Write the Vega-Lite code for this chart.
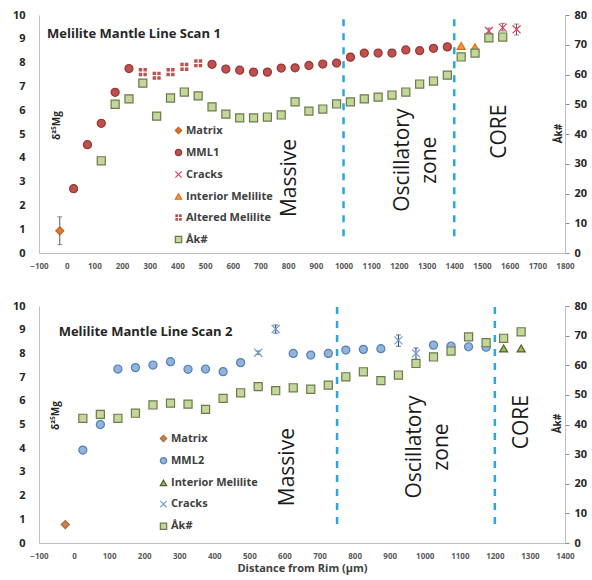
{
  "$schema": "https://vega.github.io/schema/vega-lite/v6.json",
  "padding": {"left": 12, "right": 4, "top": 9, "bottom": 4},
  "spacing": 30,
  "config": {
    "font": "Open Sans",
    "view": {"stroke": null},
    "axis": {"grid": false, "domainColor": "#bfbfbf", "labelFont": "Open Sans", "titleFont": "Open Sans", "labelOverlap": false, "format": "d"},
    "axisLeft": {"tickCount": 10},
    "axisBottom": {"tickCount": 19},
    "legend": {"labelFont": "Open Sans"}
  },
  "datasets": {
    "p1": [
      {"s": "Matrix", "x": -25, "d": 0.93, "lo": 0.35, "hi": 1.52},
      {"s": "MML1", "x": 25, "d": 2.7},
      {"s": "MML1", "x": 75, "d": 4.55},
      {"s": "MML1", "x": 125, "d": 5.45},
      {"s": "MML1", "x": 175, "d": 6.75},
      {"s": "MML1", "x": 225, "d": 7.75},
      {"s": "Altered Melilite", "x": 275, "d": 7.6},
      {"s": "Altered Melilite", "x": 325, "d": 7.45},
      {"s": "Altered Melilite", "x": 375, "d": 7.6},
      {"s": "Altered Melilite", "x": 425, "d": 7.82},
      {"s": "Altered Melilite", "x": 475, "d": 7.97},
      {"s": "MML1", "x": 525, "d": 7.93},
      {"s": "MML1", "x": 575, "d": 7.73},
      {"s": "MML1", "x": 625, "d": 7.68},
      {"s": "MML1", "x": 675, "d": 7.6},
      {"s": "MML1", "x": 725, "d": 7.6},
      {"s": "MML1", "x": 775, "d": 7.77},
      {"s": "MML1", "x": 825, "d": 7.78},
      {"s": "MML1", "x": 875, "d": 7.88},
      {"s": "MML1", "x": 925, "d": 7.94},
      {"s": "MML1", "x": 975, "d": 7.98},
      {"s": "MML1", "x": 1025, "d": 8.23},
      {"s": "MML1", "x": 1075, "d": 8.4},
      {"s": "MML1", "x": 1125, "d": 8.4},
      {"s": "MML1", "x": 1175, "d": 8.4},
      {"s": "MML1", "x": 1225, "d": 8.53},
      {"s": "MML1", "x": 1275, "d": 8.5},
      {"s": "MML1", "x": 1325, "d": 8.6},
      {"s": "MML1", "x": 1375, "d": 8.66},
      {"s": "Interior Melilite", "x": 1425, "d": 8.7},
      {"s": "Interior Melilite", "x": 1475, "d": 8.64},
      {"s": "Cracks", "x": 1525, "d": 9.33, "lo": 9.24, "hi": 9.45},
      {"s": "Cracks", "x": 1575, "d": 9.47, "lo": 9.33, "hi": 9.65},
      {"s": "Cracks", "x": 1625, "d": 9.4, "lo": 9.16, "hi": 9.62}
    ],
    "a1": [
      {"s": "Åk#", "x": 125, "ak": 31}, {"s": "Åk#", "x": 175, "ak": 50}, {"s": "Åk#", "x": 225, "ak": 51.8},
      {"s": "Åk#", "x": 275, "ak": 57.1}, {"s": "Åk#", "x": 325, "ak": 46}, {"s": "Åk#", "x": 375, "ak": 52.1},
      {"s": "Åk#", "x": 425, "ak": 54.1}, {"s": "Åk#", "x": 475, "ak": 52.8}, {"s": "Åk#", "x": 525, "ak": 49.1},
      {"s": "Åk#", "x": 575, "ak": 46.7}, {"s": "Åk#", "x": 625, "ak": 45.4}, {"s": "Åk#", "x": 675, "ak": 45.4},
      {"s": "Åk#", "x": 725, "ak": 45.7}, {"s": "Åk#", "x": 775, "ak": 46.4}, {"s": "Åk#", "x": 825, "ak": 50.8},
      {"s": "Åk#", "x": 875, "ak": 47.7}, {"s": "Åk#", "x": 925, "ak": 48.4}, {"s": "Åk#", "x": 975, "ak": 50.1},
      {"s": "Åk#", "x": 1025, "ak": 50.8}, {"s": "Åk#", "x": 1075, "ak": 51.8}, {"s": "Åk#", "x": 1125, "ak": 52.4},
      {"s": "Åk#", "x": 1175, "ak": 53.1}, {"s": "Åk#", "x": 1225, "ak": 54.1}, {"s": "Åk#", "x": 1275, "ak": 56.8},
      {"s": "Åk#", "x": 1325, "ak": 57.8}, {"s": "Åk#", "x": 1375, "ak": 59.8}, {"s": "Åk#", "x": 1425, "ak": 65.9},
      {"s": "Åk#", "x": 1475, "ak": 67.2}, {"s": "Åk#", "x": 1525, "ak": 72.3}, {"s": "Åk#", "x": 1575, "ak": 72.6}
    ],
    "p2": [
      {"s": "Matrix", "x": -25, "d": 0.78},
      {"s": "MML2", "x": 25, "d": 3.92},
      {"s": "MML2", "x": 75, "d": 5.0},
      {"s": "MML2", "x": 125, "d": 7.34},
      {"s": "MML2", "x": 175, "d": 7.4},
      {"s": "MML2", "x": 225, "d": 7.51},
      {"s": "MML2", "x": 275, "d": 7.65},
      {"s": "MML2", "x": 325, "d": 7.33},
      {"s": "MML2", "x": 375, "d": 7.34},
      {"s": "MML2", "x": 425, "d": 7.23},
      {"s": "MML2", "x": 475, "d": 7.61},
      {"s": "Cracks", "x": 525, "d": 8.03, "lo": 7.96, "hi": 8.1},
      {"s": "Cracks", "x": 575, "d": 9.03, "lo": 8.85, "hi": 9.2},
      {"s": "MML2", "x": 625, "d": 8.0},
      {"s": "MML2", "x": 675, "d": 7.93},
      {"s": "MML2", "x": 725, "d": 8.0},
      {"s": "MML2", "x": 775, "d": 8.14},
      {"s": "MML2", "x": 825, "d": 8.17},
      {"s": "MML2", "x": 875, "d": 8.2},
      {"s": "Cracks", "x": 925, "d": 8.55, "lo": 8.3, "hi": 8.78},
      {"s": "Cracks", "x": 975, "d": 8.0, "lo": 7.72, "hi": 8.23},
      {"s": "MML2", "x": 1025, "d": 8.35},
      {"s": "MML2", "x": 1075, "d": 8.31},
      {"s": "MML2", "x": 1125, "d": 8.28},
      {"s": "MML2", "x": 1175, "d": 8.26},
      {"s": "Interior Melilite", "x": 1225, "d": 8.21},
      {"s": "Interior Melilite", "x": 1275, "d": 8.21}
    ],
    "a2": [
      {"s": "Åk#", "x": 25, "ak": 42.1}, {"s": "Åk#", "x": 75, "ak": 43.4}, {"s": "Åk#", "x": 125, "ak": 42.1},
      {"s": "Åk#", "x": 175, "ak": 43.8}, {"s": "Åk#", "x": 225, "ak": 46.6}, {"s": "Åk#", "x": 275, "ak": 47.2},
      {"s": "Åk#", "x": 325, "ak": 46.9}, {"s": "Åk#", "x": 375, "ak": 45.1}, {"s": "Åk#", "x": 425, "ak": 48.8},
      {"s": "Åk#", "x": 475, "ak": 50.7}, {"s": "Åk#", "x": 525, "ak": 52.8}, {"s": "Åk#", "x": 575, "ak": 51.4},
      {"s": "Åk#", "x": 625, "ak": 52.4}, {"s": "Åk#", "x": 675, "ak": 51.9}, {"s": "Åk#", "x": 725, "ak": 53.3},
      {"s": "Åk#", "x": 775, "ak": 56.1}, {"s": "Åk#", "x": 825, "ak": 57.8}, {"s": "Åk#", "x": 875, "ak": 54.8},
      {"s": "Åk#", "x": 925, "ak": 56.7}, {"s": "Åk#", "x": 975, "ak": 60.6}, {"s": "Åk#", "x": 1025, "ak": 62.8},
      {"s": "Åk#", "x": 1075, "ak": 64.8}, {"s": "Åk#", "x": 1125, "ak": 69.6}, {"s": "Åk#", "x": 1175, "ak": 67.6},
      {"s": "Åk#", "x": 1225, "ak": 69.1}, {"s": "Åk#", "x": 1275, "ak": 71.3}
    ]
  },
  "resolve": {"scale": {"x": "independent", "y": "independent", "fill": "independent", "stroke": "independent", "shape": "independent"}, "legend": {"fill": "independent", "stroke": "independent", "shape": "independent"}},
  "vconcat": [
    {
      "width": 526,
      "height": 238,
      "resolve": {"scale": {"y": "independent"}},
      "layer": [
        {
          "layer": [
            {
              "data": {"values": [{"x": 1000, "y0": 0.7, "y1": 10.05}, {"x": 1400, "y0": 0.7, "y1": 10.05}]},
              "mark": {"type": "rule", "color": "#2aa8de", "strokeWidth": 2.5, "strokeDash": [7, 7]},
              "encoding": {
                "x": {"field": "x", "type": "quantitative", "scale": {"domain": [-100, 1800], "nice": false}, "axis": {"title": null, "ticks": false, "labelFontSize": 8, "labelFontWeight": "bold", "labelColor": "#595959", "labelPadding": 9, "labelFlush": false}},
                "y": {"field": "y0", "type": "quantitative", "scale": {"domain": [0, 10], "nice": false}, "axis": {"title": "δ²⁵Mg", "ticks": false, "labelFontSize": 11, "labelFontWeight": "bold", "labelColor": "#262626", "labelPadding": 14, "titleAngle": 270, "titleX": 17, "titleY": 110, "titleAlign": "center", "titleBaseline": "middle", "titleFontSize": 10, "titleFontWeight": "bold", "titleColor": "#262626"}},
                "y2": {"field": "y1"}
              }
            },
            {
              "data": {"name": "p1"},
              "transform": [{"filter": "isValid(datum.lo)"}],
              "mark": {"type": "rule", "color": "#595959", "strokeWidth": 1},
              "encoding": {
                "x": {"field": "x", "type": "quantitative"},
                "y": {"field": "lo", "type": "quantitative"},
                "y2": {"field": "hi"}
              }
            },
            {
              "data": {"name": "p1"},
              "transform": [{"filter": "isValid(datum.lo)"}],
              "mark": {"type": "tick", "orient": "horizontal", "color": "#595959", "size": 5, "thickness": 1},
              "encoding": {
                "x": {"field": "x", "type": "quantitative"},
                "y": {"field": "lo", "type": "quantitative"}
              }
            },
            {
              "data": {"name": "p1"},
              "transform": [{"filter": "isValid(datum.lo)"}],
              "mark": {"type": "tick", "orient": "horizontal", "color": "#595959", "size": 5, "thickness": 1},
              "encoding": {
                "x": {"field": "x", "type": "quantitative"},
                "y": {"field": "hi", "type": "quantitative"}
              }
            },
            {
              "data": {"name": "p1"},
              "mark": {"type": "point", "filled": true, "opacity": 1, "size": 65, "strokeWidth": 1.2},
              "encoding": {
                "x": {"field": "x", "type": "quantitative"},
                "y": {"field": "d", "type": "quantitative"},
                "shape": {"field": "s", "type": "nominal", "scale": {"domain": ["Matrix", "MML1", "Cracks", "Interior Melilite", "Altered Melilite", "Åk#"], "range": ["diamond", "circle", "M-1,-1L1,1M1,-1L-1,1", "triangle-up", "M-1,-1H-0.15V-0.15H-1Z M0.15,-1H1V-0.15H0.15Z M-1,0.15H-0.15V1H-1Z M0.15,0.15H1V1H0.15Z", "square"]}, "legend": {"orient": "none", "legendX": 134, "legendY": 110, "title": null, "padding": 0, "rowPadding": 9, "symbolSize": 40, "symbolStrokeWidth": 1.2, "labelFontSize": 11, "labelFontWeight": "bold", "labelColor": "#404040", "labelOffset": 2}},
                "fill": {"field": "s", "type": "nominal", "scale": {"domain": ["Matrix", "MML1", "Cracks", "Interior Melilite", "Altered Melilite", "Åk#"], "range": ["#e0782e", "#c0504d", "transparent", "#f79646", "#c0504d", "#c4d79b"]}, "legend": {"orient": "none", "legendX": 134, "legendY": 110, "title": null}},
                "stroke": {"field": "s", "type": "nominal", "scale": {"domain": ["Matrix", "MML1", "Cracks", "Interior Melilite", "Altered Melilite", "Åk#"], "range": ["#c0601e", "#953735", "#e0405a", "#e46c0a", "transparent", "#6b7a4b"]}, "legend": {"orient": "none", "legendX": 134, "legendY": 110, "title": null}}
              }
            },
            {
              "data": {"values": [
                {"x": -71, "y": 9.22, "t": "Melilite Mantle Line Scan 1"}
              ]},
              "mark": {"type": "text", "align": "left", "baseline": "middle", "fontSize": 13, "fontWeight": "bold", "color": "#262626", "font": "Open Sans"},
              "encoding": {
                "x": {"field": "x", "type": "quantitative"},
                "y": {"field": "y", "type": "quantitative"},
                "text": {"field": "t"}
              }
            },
            {
              "data": {"values": [
                {"x": 807, "y": 3.15, "t": "Massive"},
                {"x": 1216, "y": 3.9, "t": "Oscillatory\nzone"},
                {"x": 1565, "y": 5.1, "t": "CORE"}
              ]},
              "mark": {"type": "text", "angle": 270, "align": "center", "baseline": "middle", "fontSize": 21, "lineBreak": "\n", "lineHeight": 27, "color": "#1a1a1a", "font": "Open Sans"},
              "encoding": {
                "x": {"field": "x", "type": "quantitative"},
                "y": {"field": "y", "type": "quantitative"},
                "text": {"field": "t"}
              }
            }
          ]
        },
        {
          "data": {"name": "a1"},
          "mark": {"type": "point", "filled": true, "opacity": 1, "size": 65, "strokeWidth": 1.2},
          "encoding": {
            "x": {"field": "x", "type": "quantitative"},
            "y": {"field": "ak", "type": "quantitative", "scale": {"domain": [0, 80], "nice": false}, "axis": {"orient": "right", "values": [0,10,20,30,40,50,60,70,80], "labelOverlap": false, "title": "Åk#", "tickSize": 4, "tickColor": "#8c8c8c", "labelFontSize": 11, "labelFontWeight": "bold", "labelColor": "#262626", "labelPadding": 5, "titleAngle": 270, "titleX": -7, "titleY": 118, "titleAlign": "center", "titleBaseline": "middle", "titleFontSize": 10, "titleFontWeight": "bold", "titleColor": "#262626"}},
            "shape": {"field": "s", "type": "nominal"},
            "fill": {"field": "s", "type": "nominal"},
            "stroke": {"field": "s", "type": "nominal"}
          }
        }
      ]
    },
    {
      "width": 526,
      "height": 237,
      "resolve": {"scale": {"y": "independent"}},
      "layer": [
        {
          "layer": [
            {
              "data": {"values": [{"x": 750, "y0": 0.8, "y1": 10.05}, {"x": 1200, "y0": 0.8, "y1": 10.05}]},
              "mark": {"type": "rule", "color": "#2aa8de", "strokeWidth": 2.5, "strokeDash": [7, 7]},
              "encoding": {
                "x": {"field": "x", "type": "quantitative", "scale": {"domain": [-100, 1400], "nice": false}, "axis": {"title": "Distance from Rim (µm)", "ticks": false, "labelFontSize": 8, "labelFontWeight": "bold", "labelColor": "#595959", "labelPadding": 9, "labelFlush": false, "titleFontSize": 11, "titleFontWeight": "bold", "titleColor": "#404040", "titlePadding": 2}},
                "y": {"field": "y0", "type": "quantitative", "scale": {"domain": [0, 10], "nice": false}, "axis": {"title": "δ²⁵Mg", "ticks": false, "labelFontSize": 11, "labelFontWeight": "bold", "labelColor": "#262626", "labelPadding": 14, "titleAngle": 270, "titleX": 16, "titleY": 109, "titleAlign": "center", "titleBaseline": "middle", "titleFontSize": 10, "titleFontWeight": "bold", "titleColor": "#262626"}},
                "y2": {"field": "y1"}
              }
            },
            {
              "data": {"name": "p2"},
              "transform": [{"filter": "isValid(datum.lo)"}],
              "mark": {"type": "rule", "color": "#1f3f7a", "strokeWidth": 1},
              "encoding": {
                "x": {"field": "x", "type": "quantitative"},
                "y": {"field": "lo", "type": "quantitative"},
                "y2": {"field": "hi"}
              }
            },
            {
              "data": {"name": "p2"},
              "transform": [{"filter": "isValid(datum.lo)"}],
              "mark": {"type": "tick", "orient": "horizontal", "color": "#1f3f7a", "size": 5, "thickness": 1},
              "encoding": {
                "x": {"field": "x", "type": "quantitative"},
                "y": {"field": "lo", "type": "quantitative"}
              }
            },
            {
              "data": {"name": "p2"},
              "transform": [{"filter": "isValid(datum.lo)"}],
              "mark": {"type": "tick", "orient": "horizontal", "color": "#1f3f7a", "size": 5, "thickness": 1},
              "encoding": {
                "x": {"field": "x", "type": "quantitative"},
                "y": {"field": "hi", "type": "quantitative"}
              }
            },
            {
              "data": {"name": "p2"},
              "mark": {"type": "point", "filled": true, "opacity": 1, "size": 65, "strokeWidth": 1.2},
              "encoding": {
                "x": {"field": "x", "type": "quantitative"},
                "y": {"field": "d", "type": "quantitative"},
                "shape": {"field": "s", "type": "nominal", "scale": {"domain": ["Matrix", "MML2", "Interior Melilite", "Cracks", "Åk#"], "range": ["diamond", "circle", "triangle-up", "M-1,-1L1,1M1,-1L-1,1", "square"]}, "legend": {"orient": "none", "legendX": 119, "legendY": 127, "title": null, "padding": 0, "rowPadding": 9.2, "symbolSize": 40, "symbolStrokeWidth": 1.2, "labelFontSize": 11, "labelFontWeight": "bold", "labelColor": "#404040", "labelOffset": 2}},
                "fill": {"field": "s", "type": "nominal", "scale": {"domain": ["Matrix", "MML2", "Interior Melilite", "Cracks", "Åk#"], "range": ["#d08048", "#95b3d7", "#9bbb59", "transparent", "#c4d79b"]}, "legend": {"orient": "none", "legendX": 119, "legendY": 127, "title": null}},
                "stroke": {"field": "s", "type": "nominal", "scale": {"domain": ["Matrix", "MML2", "Interior Melilite", "Cracks", "Åk#"], "range": ["#a86a40", "#4f81bd", "#4f6228", "#6f9fd8", "#6b7a4b"]}, "legend": {"orient": "none", "legendX": 119, "legendY": 127, "title": null}}
              }
            },
            {
              "data": {"values": [
                {"x": -44, "y": 8.9, "t": "Melilite Mantle Line Scan 2"}
              ]},
              "mark": {"type": "text", "align": "left", "baseline": "middle", "fontSize": 13, "fontWeight": "bold", "color": "#262626", "font": "Open Sans"},
              "encoding": {
                "x": {"field": "x", "type": "quantitative"},
                "y": {"field": "y", "type": "quantitative"},
                "text": {"field": "t"}
              }
            },
            {
              "data": {"values": [
                {"x": 610, "y": 3.2, "t": "Massive"},
                {"x": 973, "y": 4.05, "t": "Oscillatory\nzone"},
                {"x": 1276, "y": 5.1, "t": "CORE"}
              ]},
              "mark": {"type": "text", "angle": 270, "align": "center", "baseline": "middle", "fontSize": 21, "lineBreak": "\n", "lineHeight": 27, "color": "#1a1a1a", "font": "Open Sans"},
              "encoding": {
                "x": {"field": "x", "type": "quantitative"},
                "y": {"field": "y", "type": "quantitative"},
                "text": {"field": "t"}
              }
            }
          ]
        },
        {
          "data": {"name": "a2"},
          "mark": {"type": "point", "filled": true, "opacity": 1, "size": 65, "strokeWidth": 1.2},
          "encoding": {
            "x": {"field": "x", "type": "quantitative"},
            "y": {"field": "ak", "type": "quantitative", "scale": {"domain": [0, 80], "nice": false}, "axis": {"orient": "right", "values": [0,10,20,30,40,50,60,70,80], "labelOverlap": false, "title": "Åk#", "tickSize": 4, "tickColor": "#8c8c8c", "labelFontSize": 11, "labelFontWeight": "bold", "labelColor": "#262626", "labelPadding": 5, "titleAngle": 270, "titleX": -8, "titleY": 117, "titleAlign": "center", "titleBaseline": "middle", "titleFontSize": 10, "titleFontWeight": "bold", "titleColor": "#262626"}},
            "shape": {"field": "s", "type": "nominal"},
            "fill": {"field": "s", "type": "nominal"},
            "stroke": {"field": "s", "type": "nominal"}
          }
        }
      ]
    }
  ]
}
